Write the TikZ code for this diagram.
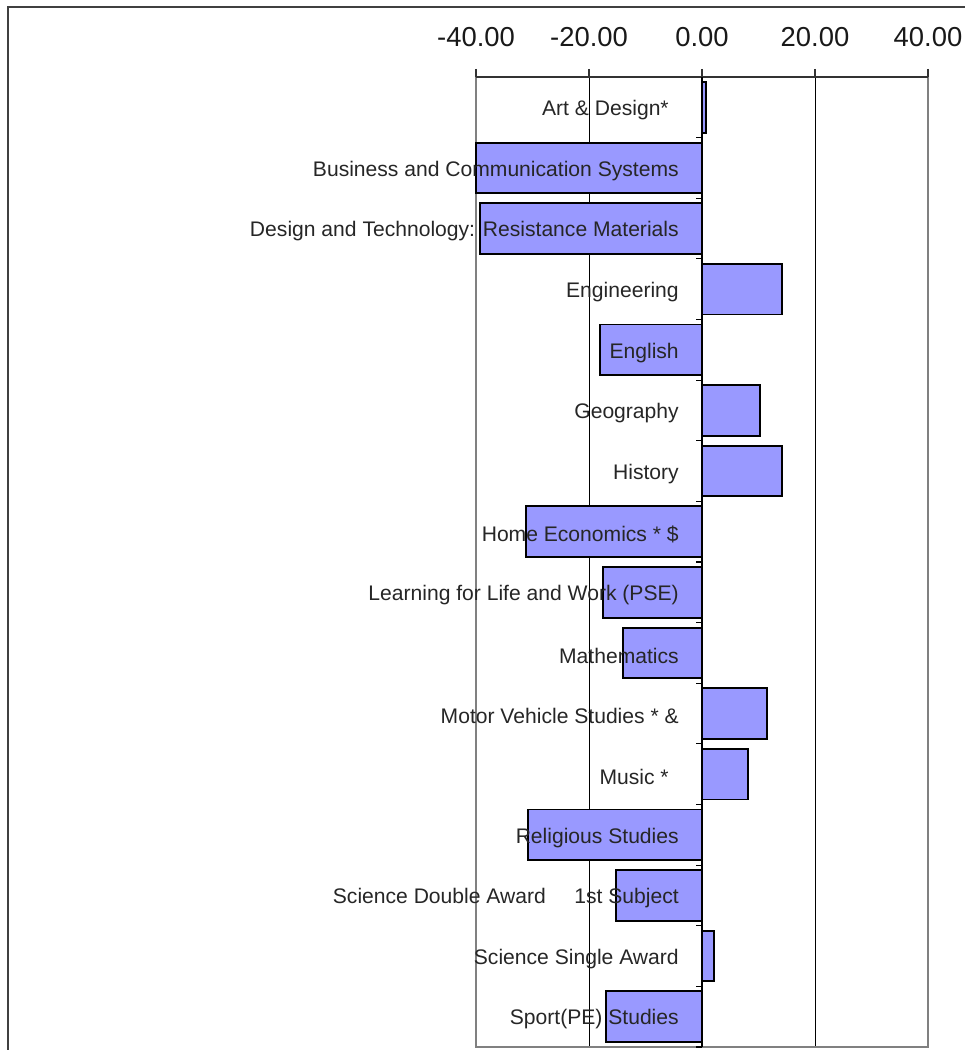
\documentclass[tikz,border=0pt]{standalone}
\usepackage{fontspec}
\setmainfont{Liberation Sans}
\definecolor{barfill}{HTML}{9999FF}
\tikzset{
  bar/.style={draw=black, line width=1.4pt, fill=barfill},
  lab/.style={anchor=east, inner sep=0pt, yshift=-2pt, text=black!85, font=\fontsize{15}{18}\selectfont},
  num/.style={inner sep=0pt, text=black!90, font=\fontsize{19.5}{23}\selectfont},
  gridline/.style={black, line width=0.7pt},
  plotframe/.style={black!50, line width=1.6pt}
}

\begin{document}
\begin{tikzpicture}[x=0.025cm, y=-0.025cm]
\useasboundingbox (0,0) rectangle (965,1050);
\draw[black!75, line width=1.5pt] (8,1050) -- (8,7) -- (965,7);

% value axis
\node[num] (m40) at (476,37) {-40.00};
\node[num] (m20) at (589,37) {-20.00};
\node[num] (z0) at (702,37) {0.00};
\node[num] (p20) at (815,37) {20.00};
\node[num] (p40) at (928,37) {40.00};
\draw[gridline] (589,77) -- (589,1047);
\draw[gridline] (815,77) -- (815,1047);
\draw[plotframe] (476,77) -- (476,1047) -- (928,1047) -- (928,77);
\draw[black!80, line width=1.2pt] (476,77) -- (928,77);
\draw[black!80, line width=0.8pt] (476,69) -- (476,77);
\draw[black!80, line width=0.8pt] (589,69) -- (589,77);
\draw[black!80, line width=0.8pt] (702,69) -- (702,77);
\draw[black!80, line width=0.8pt] (815,69) -- (815,77);
\draw[black!80, line width=0.8pt] (928,69) -- (928,77);

% bars
\draw[bar] (702,82) rectangle (706,132.6);
\draw[bar] (702,142.6) rectangle (476,193.2);
\draw[bar] (702,203.2) rectangle (480,253.9);
\draw[bar] (702,263.9) rectangle (782,314.5);
\draw[bar] (702,324.5) rectangle (600,375.1);
\draw[bar] (702,385.1) rectangle (760,435.7);
\draw[bar] (702,445.7) rectangle (782,496.4);
\draw[bar] (702,506.4) rectangle (526,557);
\draw[bar] (702,567) rectangle (603,617.6);
\draw[bar] (702,627.6) rectangle (623,678.2);
\draw[bar] (702,688.2) rectangle (767,738.9);
\draw[bar] (702,748.9) rectangle (748,799.5);
\draw[bar] (702,809.5) rectangle (528,860.1);
\draw[bar] (702,870.1) rectangle (616,920.7);
\draw[bar] (702,930.7) rectangle (714,981.4);
\draw[bar] (702,991.4) rectangle (606,1042);

% category axis
\draw[black, line width=1pt] (702,77) -- (702,1047);
\foreach \t in {137.6,198.2,258.9,319.5,380.1,440.7,501.4,562,622.6,683.2,743.9,804.5,865.1,925.7,986.4,1047}
  \draw[black, line width=0.8pt] (696,\t) -- (702,\t);

% labels
\node[lab] (art) at (669,107.3) {Art \& Design*};
\node[lab] (bcs) at (679,167.9) {Business and Communication Systems};
\node[lab] (dt) at (679,228.6) {Design and Technology: Resistance Materials};
\node[lab] (eng) at (679,289.2) {Engineering};
\node[lab] (engl) at (679,349.8) {English};
\node[lab] (geo) at (679,410.4) {Geography};
\node[lab] (hist) at (679,471.1) {History};
\node[lab] (home) at (679,531.7) {Home Economics * \$};
\node[lab] (llw) at (679,592.3) {Learning for Life and Work (PSE)};
\node[lab] (maths) at (679,652.9) {Mathematics};
\node[lab] (motor) at (679,713.6) {Motor Vehicle Studies * \&};
\node[lab] (music) at (669,774.2) {Music *};
\node[lab] (rs) at (679,834.8) {Religious Studies};
\node[lab] (scid) at (679,895.4) {Science Double Award\hspace{1.35em}1st Subject};
\node[lab] (scis) at (679,956.1) {Science Single Award};
\node[lab] (sport) at (679,1016.7) {Sport(PE) Studies};
\end{tikzpicture}
\end{document}
